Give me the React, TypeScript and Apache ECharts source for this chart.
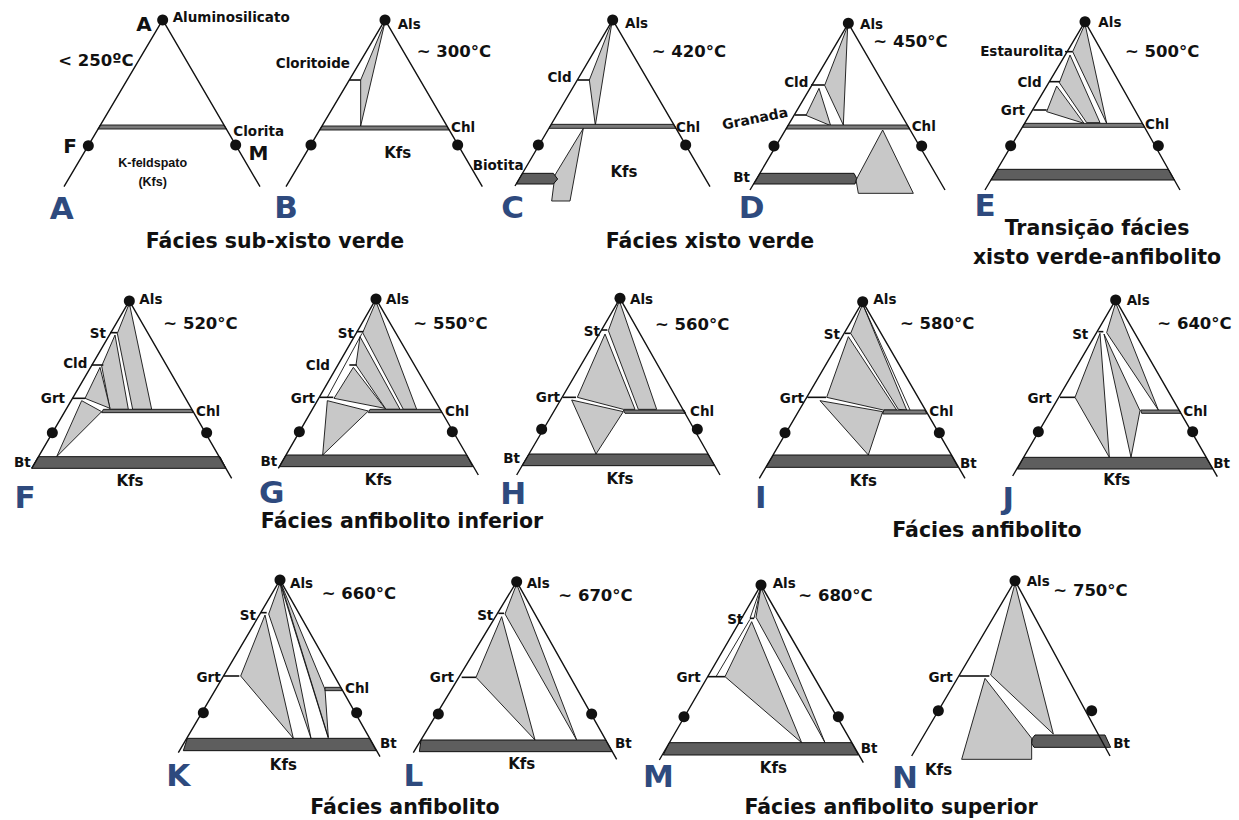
import React, { useEffect, useRef } from "react";
import * as echarts from "echarts";

type Pt = [number, number];
type Label = [string, number, number, string, string];

// ---------------- DATA (panel coordinate space: 3 units per pixel of a panel frame) ----------------
const panelIds = ["A", "B", "C", "D", "E", "F", "G", "H", "I", "J", "K", "L", "M", "N"];

const apexes: Pt[] = [[488, 60], [405, 60], [368, 60], [445, 70], [405, 65], [388, 63], [378, 57], [390, 55], [398, 65], [437, 60], [390, 60], [1100, 65], [393, 75], [1155, 62]];
const leftEnds: Pt[] = [[192, 560], [108, 560], [75, 558], [150, 570], [105, 570], [95, 565], [85, 565], [80, 585], [88, 595], [128, 588], [85, 578], [790, 578], [88, 600], [845, 588]];
const rightEnds: Pt[] = [[780, 560], [697, 560], [660, 560], [735, 570], [690, 570], [695, 595], [685, 585], [690, 585], [705, 595], [742, 590], [690, 590], [1400, 598], [700, 608], [1440, 588]];
const feDots: Pt[] = [[265, 437], [183, 435], [145, 435], [222, 438], [182, 437], [157, 458], [148, 455], [155, 448], [165, 458], [205, 455], [160, 458], [865, 462], [162, 470], [925, 452]];
const mgDots: Pt[] = [[707, 435], [623, 435], [587, 435], [665, 438], [625, 437], [620, 458], [607, 455], [622, 448], [628, 458], [668, 455], [620, 458], [1325, 462], [625, 470], [1385, 452]];

const chlBands: (Pt[] | null)[] = [
  [[301, 375], [672, 375], [679, 387], [294, 387]],
  [[216, 378], [590, 378], [597, 390], [209, 390]],
  [[184, 373], [551, 373], [558, 385], [177, 385]],
  [[265, 375], [622, 375], [629, 387], [258, 387]],
  [[224, 370], [577, 370], [584, 382], [217, 382]],
  [[310, 388], [574, 388], [580, 398], [305, 398]],
  [[360, 388], [570, 388], [576, 398], [355, 398]],
  [[400, 390], [582, 390], [587, 400], [405, 400]],
  [[462, 390], [585, 390], [590, 402], [458, 402]],
  [[512, 390], [628, 390], [633, 400], [515, 400]],
  [[525, 382], [572, 382], [577, 392], [525, 392]],
  null,
  null,
  null,
];

const btBands: (Pt[] | null)[] = [
  null,
  null,
  [[97, 520], [190, 520], [203, 537], [190, 552], [79, 552]],
  [[180, 520], [462, 520], [470, 535], [465, 552], [161, 552]],
  [[142, 508], [655, 508], [673, 540], [123, 540]],
  [[115, 530], [660, 530], [678, 565], [95, 565]],
  [[108, 525], [650, 525], [668, 560], [88, 560]],
  [[117, 522], [654, 522], [674, 557], [96, 557]],
  [[130, 525], [664, 525], [684, 562], [108, 562]],
  [[161, 532], [708, 532], [728, 567], [142, 567]],
  [[112, 535], [659, 535], [678, 572], [100, 572]],
  [[813, 540], [1367, 540], [1387, 575], [808, 575]],
  [[118, 548], [665, 548], [685, 585], [100, 585]],
  [[1215, 525], [1425, 525], [1442, 562], [1212, 562], [1205, 550], [1207, 535]],
];

const grayFields: Pt[][][] = [
  [],
  [[[405, 66], [332, 240], [332, 378]]],
  [[[366, 66], [298, 240], [316, 376]], [[280, 385], [240, 603], [185, 603], [195, 525]]],
  [[[443, 78], [374, 256], [430, 375]], [[357, 265], [318, 346], [392, 377]], [[548, 390], [640, 580], [475, 580], [468, 540]]],
  [[[405, 72], [368, 155], [470, 370]], [[360, 165], [328, 248], [410, 368], [450, 368]], [[320, 258], [290, 335], [402, 370]]],
  [[[388, 70], [352, 160], [398, 388], [455, 388]], [[345, 165], [305, 258], [330, 388], [385, 388]], [[300, 262], [255, 355], [330, 385]], [[245, 362], [170, 530], [305, 395]]],
  [[[378, 65], [338, 158], [460, 388], [500, 388]], [[330, 170], [318, 255], [408, 388], [450, 388]], [[310, 262], [252, 355], [405, 385]], [[232, 362], [218, 525], [355, 393]]],
  [[[388, 62], [355, 152], [445, 388], [500, 388]], [[345, 162], [262, 352], [400, 388], [435, 388]], [[245, 360], [318, 522], [400, 395]]],
  [[[398, 72], [362, 160], [505, 388], [530, 390]], [[355, 170], [290, 352], [460, 390], [500, 390]], [[270, 362], [415, 525], [458, 395]]],
  [[[437, 68], [410, 158], [565, 390]], [[390, 160], [315, 352], [418, 532]], [[402, 162], [483, 532], [510, 392]]],
  [[[390, 68], [356, 162], [483, 535]], [[345, 165], [272, 348], [430, 535]], [[392, 68], [525, 388], [535, 532]]],
  [[[1100, 72], [1065, 162], [1280, 540]], [[1055, 170], [978, 352], [1155, 540]]],
  [[[393, 82], [378, 172], [585, 548]], [[365, 185], [285, 350], [515, 548]]],
  [[[1155, 70], [1082, 345], [1270, 522]], [[1065, 355], [995, 598], [1205, 598], [1205, 535]]],
];

const tieTicks: Pt[][][] = [
  [],
  [[[298, 240], [332, 240]]],
  [[[263, 240], [298, 240]]],
  [[[333, 255], [374, 255]], [[285, 345], [318, 345]]],
  [[[345, 155], [368, 155]], [[298, 245], [330, 245]], [[250, 330], [290, 330]]],
  [[[330, 158], [352, 158]], [[275, 255], [310, 255]], [[218, 355], [255, 355]]],
  [[[320, 155], [340, 155]], [[298, 255], [320, 255]], [[210, 352], [250, 352]]],
  [[[335, 150], [352, 150]], [[218, 352], [258, 352]]],
  [[[345, 160], [362, 160]], [[232, 352], [288, 352]]],
  [[[385, 155], [400, 155]], [[270, 352], [315, 352]]],
  [[[333, 158], [350, 158]], [[222, 348], [268, 348]]],
  [[[1045, 160], [1062, 160]], [[935, 352], [978, 352]]],
  [[[360, 175], [372, 175]], [[233, 350], [285, 350]]],
  [[[988, 348], [1078, 348]]],
];

const extraLines: Pt[][][] = [
  [], [], [], [], [], [],
  [[[336, 160], [232, 352]]],
  [],
  [[[398, 72], [540, 390]]],
  [],
  [[[390, 68], [535, 535]]],
  [],
  [[[393, 80], [360, 175]], [[393, 80], [372, 175]], [[360, 178], [258, 350]]],
  [],
];

// [text, x, y, kind, align]
const labels: Label[][] = [
  [["A", 432, 72, "v", "c"], ["Aluminosilicato", 518, 50, "m", "l"], ["< 250ºC", 288, 180, "t", "c"], ["F", 210, 437, "v", "c"], ["M", 775, 460, "v", "c"], ["Clorita", 700, 392, "m", "l"], ["K-feldspato", 458, 490, "s", "c"], ["(Kfs)", 458, 545, "s", "c"], ["A", 185, 625, "b", "c"]],
  [["Als", 443, 72, "m", "l"], ["~ 300°C", 500, 155, "t", "l"], ["Cloritoide", 300, 190, "m", "r"], ["Chl", 603, 380, "m", "l"], ["Kfs", 443, 460, "k", "c"], ["Biotita", 668, 495, "m", "l"], ["B", 108, 620, "b", "c"]],
  [["Als", 405, 68, "m", "l"], ["~ 420°C", 485, 155, "t", "l"], ["Cld", 245, 232, "m", "r"], ["Chl", 558, 380, "m", "l"], ["Kfs", 402, 515, "k", "c"], ["C", 68, 622, "b", "c"]],
  [["Als", 480, 72, "m", "l"], ["~ 450°C", 520, 125, "t", "l"], ["Cld", 325, 245, "m", "r"], ["Granada", 165, 355, "g", "c"], ["Chl", 635, 378, "m", "l"], ["Bt", 150, 532, "m", "r"], ["D", 155, 622, "b", "c"]],
  [["Als", 445, 65, "m", "l"], ["~ 500°C", 525, 155, "t", "l"], ["Estaurolita", 340, 152, "m", "r"], ["Cld", 275, 245, "m", "r"], ["Grt", 225, 330, "m", "r"], ["Chl", 585, 372, "m", "l"], ["E", 105, 615, "b", "c"]],
  [["Als", 418, 58, "m", "l"], ["~ 520°C", 490, 130, "t", "l"], ["St", 318, 158, "m", "r"], ["Cld", 262, 250, "m", "r"], ["Grt", 195, 355, "m", "r"], ["Chl", 588, 392, "m", "l"], ["Bt", 92, 545, "m", "r"], ["Kfs", 390, 602, "k", "c"], ["F", 75, 650, "b", "c"]],
  [["Als", 408, 58, "m", "l"], ["~ 550°C", 490, 130, "t", "l"], ["St", 312, 160, "m", "r"], ["Cld", 240, 255, "m", "r"], ["Grt", 195, 355, "m", "r"], ["Chl", 585, 392, "m", "l"], ["Bt", 82, 543, "m", "r"], ["Kfs", 385, 600, "k", "c"], ["G", 65, 636, "b", "c"]],
  [["Als", 420, 58, "m", "l"], ["~ 560°C", 495, 132, "t", "l"], ["St", 330, 152, "m", "r"], ["Grt", 210, 352, "m", "r"], ["Chl", 600, 392, "m", "l"], ["Bt", 90, 535, "m", "r"], ["Kfs", 390, 597, "k", "c"], ["H", 70, 638, "b", "c"]],
  [["Als", 430, 58, "m", "l"], ["~ 580°C", 510, 130, "t", "l"], ["St", 330, 162, "m", "r"], ["Grt", 222, 355, "m", "r"], ["Chl", 598, 392, "m", "l"], ["Bt", 690, 550, "m", "l"], ["Kfs", 400, 602, "k", "c"], ["I", 92, 650, "b", "c"]],
  [["Als", 470, 60, "m", "l"], ["~ 640°C", 562, 130, "t", "l"], ["St", 355, 162, "m", "r"], ["Grt", 245, 355, "m", "r"], ["Chl", 640, 392, "m", "l"], ["Bt", 730, 548, "m", "l"], ["Kfs", 440, 600, "k", "c"], ["J", 115, 655, "b", "c"]],
  [["Als", 420, 68, "m", "l"], ["~ 660°C", 515, 100, "t", "l"], ["St", 318, 165, "m", "r"], ["Grt", 212, 350, "m", "r"], ["Chl", 585, 385, "m", "l"], ["Bt", 690, 548, "m", "l"], ["Kfs", 400, 615, "k", "c"], ["K", 85, 645, "b", "c"]],
  [["Als", 1130, 68, "m", "l"], ["~ 670°C", 1225, 105, "t", "l"], ["St", 1030, 165, "m", "r"], ["Grt", 912, 350, "m", "r"], ["Bt", 1395, 550, "m", "l"], ["Kfs", 1115, 612, "k", "c"], ["L", 790, 645, "b", "c"]],
  [["Als", 428, 68, "m", "l"], ["~ 680°C", 505, 105, "t", "l"], ["St", 340, 178, "m", "r"], ["Grt", 212, 350, "m", "r"], ["Bt", 692, 565, "m", "l"], ["Kfs", 430, 625, "k", "c"], ["M", 85, 648, "b", "c"]],
  [["Als", 1190, 62, "m", "l"], ["~ 750°C", 1270, 92, "t", "l"], ["Grt", 968, 350, "m", "r"], ["Bt", 1450, 548, "m", "l"], ["Kfs", 885, 630, "k", "l"], ["N", 825, 650, "b", "c"]],
];

const faciesNames = ["Fácies sub-xisto verde", "Fácies xisto verde", "Transição fácies", "xisto verde-anfibolito", "Fácies anfibolito inferior", "Fácies anfibolito", "Fácies anfibolito", "Fácies anfibolito superior"];

// ---------------- LAYOUT ----------------
// panel frames in page pixels [left, top, width, height]
const frames: [number, number, number, number][] = [
  [0, 0, 260, 260], [250, 0, 260, 260], [490, 0, 250, 260], [700, 0, 260, 260], [950, 0, 289, 270],
  [0, 280, 260, 270], [250, 280, 250, 270], [490, 280, 250, 270], [730, 280, 250, 270], [970, 280, 269, 270],
  [150, 560, 500, 260], [150, 560, 500, 260], [630, 560, 520, 260], [630, 560, 520, 260],
];
const faciesPos: Pt[] = [[275, 241], [710, 241], [1097, 228], [1097, 257], [402, 521], [987, 530], [405, 807], [891, 807]];

const FONT = '"DejaVu Sans", "Liberation Sans", sans-serif';
const labelFont: Record<string, string> = {
  m: `bold 13.5px ${FONT}`,
  g: `bold 14px ${FONT}`,
  t: `bold 16.5px ${FONT}`,
  k: `bold 15px ${FONT}`,
  v: `bold 20px ${FONT}`,
  s: `bold 12.5px "Liberation Sans", sans-serif`,
  b: `bold 31px ${FONT}`,
};
const alignMap: Record<string, string> = { l: "left", c: "center", r: "right" };
const BLUE = "#2e4a7e";
const INK = "#111111";

function renderPanel(p: number, api: any) {
  const c = (pt: Pt) => api.coord(pt);
  const children: any[] = [];
  grayFields[p].forEach((poly) =>
    children.push({ type: "polygon", shape: { points: poly.map(c) }, style: { fill: "#c8c8c8", stroke: INK, lineWidth: 0.9 } })
  );
  const chl = chlBands[p];
  if (chl) children.push({ type: "polygon", shape: { points: chl.map(c) }, style: { fill: "#7a7a7a", stroke: INK, lineWidth: 0.9 } });
  const bt = btBands[p];
  if (bt) children.push({ type: "polygon", shape: { points: bt.map(c) }, style: { fill: "#5e5e5e", stroke: INK, lineWidth: 1 } });
  children.push({
    type: "polyline",
    shape: { points: [c(leftEnds[p]), c(apexes[p]), c(rightEnds[p])] },
    style: { fill: "none", stroke: INK, lineWidth: 1.4 },
  });
  tieTicks[p].forEach((ln) =>
    children.push({ type: "polyline", shape: { points: ln.map(c) }, style: { fill: "none", stroke: INK, lineWidth: 1.6 } })
  );
  extraLines[p].forEach((ln) =>
    children.push({ type: "polyline", shape: { points: ln.map(c) }, style: { fill: "none", stroke: INK, lineWidth: 0.9 } })
  );
  [apexes[p], feDots[p], mgDots[p]].forEach((d) => {
    const [x, y] = c(d);
    children.push({ type: "circle", shape: { cx: x, cy: y, r: 5.5 }, style: { fill: INK, stroke: "none" } });
  });
  labels[p].forEach(([text, lx, ly, kind, al]) => {
    const [x, y] = c([lx, ly]);
    children.push({
      type: "text",
      x,
      y,
      rotation: kind === "g" ? 0.2 : 0,
      style: {
        text,
        font: labelFont[kind],
        fill: kind === "b" ? BLUE : INK,
        align: alignMap[al],
        verticalAlign: "middle",
        textAlign: alignMap[al],
        textVerticalAlign: "middle",
      },
    });
  });
  return { type: "group", children };
}

export default function App() {
  const ref = useRef<HTMLDivElement>(null);
  useEffect(() => {
    if (!ref.current) return;
    const chart = echarts.init(ref.current, null, { renderer: "svg" });
    const option: any = {
      animation: false,
      backgroundColor: "#ffffff",
      grid: frames.map(([x, y, w, h]) => ({ left: x, top: y, width: w, height: h, containLabel: false })),
      xAxis: frames.map(([, , w], i) => ({ type: "value", gridIndex: i, min: 0, max: w * 3, show: false })),
      yAxis: frames.map(([, , , h], i) => ({ type: "value", gridIndex: i, min: 0, max: h * 3, inverse: true, show: false })),
      series: frames.map((_, p) => ({
        type: "custom",
        name: `Painel ${panelIds[p]}`,
        coordinateSystem: "cartesian2d",
        xAxisIndex: p,
        yAxisIndex: p,
        silent: true,
        clip: false,
        data: [[0, 0]],
        renderItem: (_params: any, api: any) => renderPanel(p, api),
      })),
      graphic: faciesNames.map((t, i) => ({
        type: "text",
        x: faciesPos[i][0],
        y: faciesPos[i][1],
        silent: true,
        style: {
          text: t,
          font: `bold 20.5px ${FONT}`,
          fill: INK,
          align: "center",
          verticalAlign: "middle",
          textAlign: "center",
          textVerticalAlign: "middle",
        },
      })),
    };
    chart.setOption(option);
    return () => chart.dispose();
  }, []);
  return <div ref={ref} style={{ position: "absolute", left: 0, top: 0, width: 1239, height: 820, background: "#fff" }} />;
}
